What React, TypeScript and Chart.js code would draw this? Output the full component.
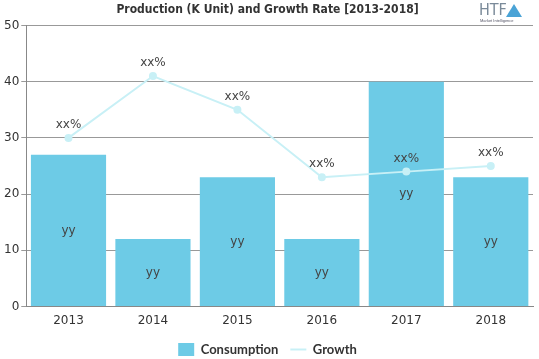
import React, { useEffect, useRef } from "react";
import { Chart, registerables } from "chart.js";

Chart.register(...registerables);

const categories = ["2013", "2014", "2015", "2016", "2017", "2018"];
const consumption = [27, 12, 23, 12, 40, 23];
const growth = [30, 41, 35, 23, 24, 25];
const barLabels = ["yy", "yy", "yy", "yy", "yy", "yy"];
const lineLabels = ["xx%", "xx%", "xx%", "xx%", "xx%", "xx%"];
const titleText = "Production (K Unit) and Growth Rate [2013-2018]";

const labelPlugin = {
  id: "valueLabels",
  afterDatasetsDraw(chart: any) {
    const ctx = chart.ctx;
    ctx.save();
    ctx.font = "12px 'DejaVu Sans', sans-serif";
    ctx.fillStyle = "#444";
    ctx.textAlign = "center";
    ctx.textBaseline = "middle";
    const barMeta = chart.getDatasetMeta(0);
    barMeta.data.forEach((el: any, i: number) => {
      const y = (el.y + el.base) / 2;
      ctx.fillText(barLabels[i], el.x, y);
    });
    const lineMeta = chart.getDatasetMeta(1);
    lineMeta.data.forEach((el: any, i: number) => {
      ctx.fillText(lineLabels[i], el.x, el.y - 13);
    });
    // logo
    ctx.font = "16px 'DejaVu Sans Condensed', sans-serif";
    ctx.fillStyle = "#7a8a99";
    ctx.textAlign = "left";
    ctx.fillText("HTF", 479, 11);
    ctx.fillStyle = "#4aa3d6";
    ctx.beginPath();
    ctx.moveTo(514, 4);
    ctx.lineTo(522, 17);
    ctx.lineTo(506, 17);
    ctx.closePath();
    ctx.fill();
    ctx.font = "4px sans-serif";
    ctx.fillStyle = "#556";
    ctx.fillText("Market Intelligence", 480, 21);
    ctx.restore();
  },
};

export default function App() {
  const ref = useRef<HTMLCanvasElement>(null);
  useEffect(() => {
    document.body.style.margin = "0";
    const chart = new Chart(ref.current!, {
      data: {
        labels: categories,
        datasets: [
          {
            type: "bar",
            label: "Consumption",
            data: consumption,
            backgroundColor: "#6dcbe6",
            barPercentage: 0.89,
            categoryPercentage: 1,
            order: 2,
          },
          {
            type: "line",
            label: "Growth",
            data: growth,
            borderColor: "#c8f0f6",
            backgroundColor: "#c8f0f6",
            borderWidth: 2,
            pointRadius: 3,
            pointBackgroundColor: "#c8f0f6",
            pointBorderColor: "#c8f0f6",
            order: 1,
          },
        ],
      } as any,
      options: {
        animation: false,
        responsive: false,
        maintainAspectRatio: false,
        layout: { padding: { left: 2, right: 6, top: 0, bottom: -7 } },
        plugins: {
          title: {
            display: true,
            text: titleText,
            font: { family: "'DejaVu Sans Condensed', sans-serif", size: 12, weight: "bold" },
            color: "#333",
            padding: { top: 3, bottom: 8 },
          },
          legend: {
            position: "bottom",
            labels: {
              font: { family: "Lato, sans-serif", size: 13, weight: "bold" },
              color: "#333",
              boxWidth: 13,
              boxHeight: 13,
              padding: 12,
              sort: (a: any, b: any) => a.datasetIndex - b.datasetIndex,
              generateLabels: (chart: any) => {
                const items = Chart.defaults.plugins.legend.labels.generateLabels(chart);
                items.forEach((it: any) => {
                  if (it.datasetIndex === 1) {
                    it.pointStyle = "line";
                    it.lineWidth = 2;
                    it.strokeStyle = "#c8f0f6";
                  } else {
                    it.pointStyle = "rect";
                    it.lineWidth = 0;
                  }
                });
                return items;
              },
              usePointStyle: true,
              pointStyleWidth: 16,
            },
          },
          tooltip: { enabled: false },
        },
        scales: {
          x: {
            grid: { display: false, drawTicks: true, tickLength: 4 },
            border: { color: "#888" },
            ticks: { color: "#333", font: { family: "'DejaVu Sans', sans-serif", size: 12 } },
          },
          y: {
            min: 0,
            max: 50,
            ticks: { stepSize: 10, color: "#333", font: { family: "'DejaVu Sans', sans-serif", size: 12 }, padding: 2 },
            grid: { color: "#999", tickLength: 5 },
            border: { color: "#888" },
          },
        },
      },
      plugins: [labelPlugin],
    });
    return () => chart.destroy();
  }, []);
  return (
    <div style={{ width: 539, height: 359 }}>
      <canvas ref={ref} width={539} height={359} />
    </div>
  );
}
